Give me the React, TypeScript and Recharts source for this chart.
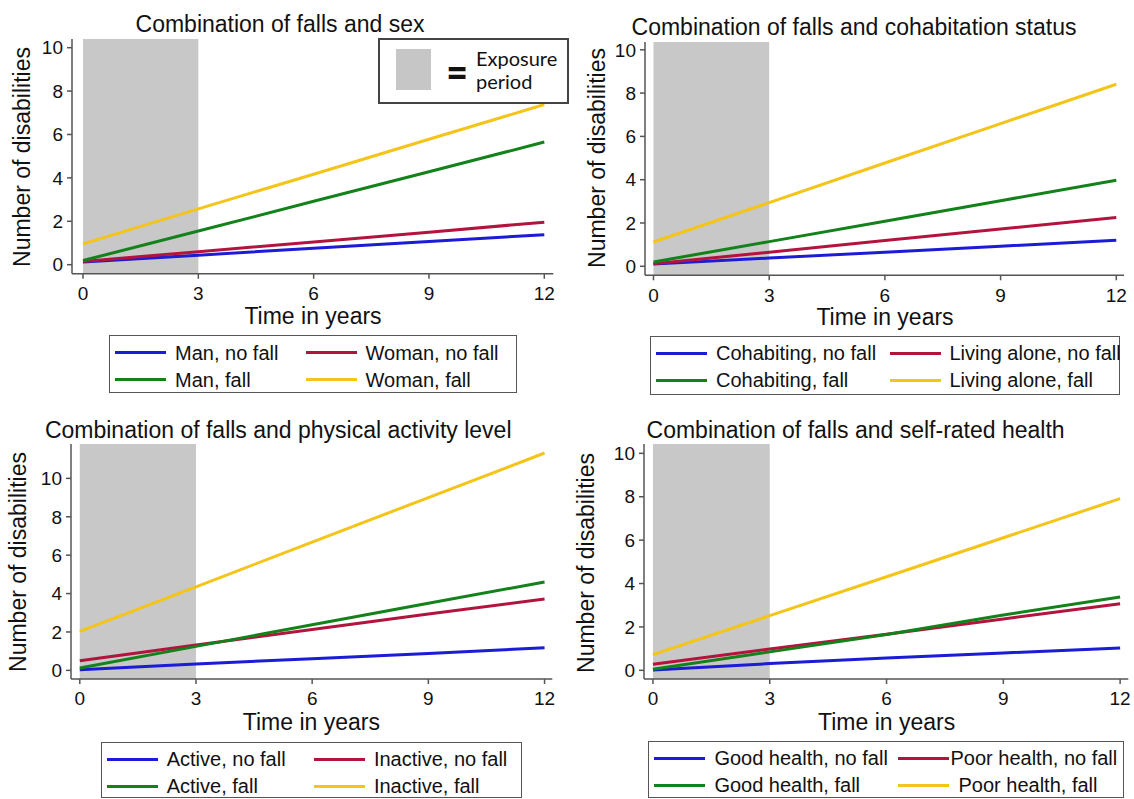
import React from "react";
import { LineChart, Line, XAxis, YAxis, ReferenceArea, Legend } from "recharts";

// time points (years) and axis ticks
const years = [0, 3, 6, 9, 12];
const xTicks = [0, 3, 6, 9, 12];
const yTicks = [0, 2, 4, 6, 8, 10];
const exposurePeriod = [0, 3];

const titles = [
  "Combination of falls and sex",
  "Combination of falls and cohabitation status",
  "Combination of falls and physical activity level",
  "Combination of falls and self-rated health",
];

// sex
const sexLabels = ["Man, no fall", "Woman, no fall", "Man, fall", "Woman, fall"];
const manNoFall = [0.12, 0.44, 0.76, 1.07, 1.38];
const womanNoFall = [0.15, 0.6, 1.05, 1.5, 1.96];
const manFall = [0.19, 1.55, 2.92, 4.28, 5.65];
const womanFall = [0.96, 2.57, 4.17, 5.78, 7.38];

// cohabitation
const cohabLabels = ["Cohabiting, no fall", "Living alone, no fall", "Cohabiting, fall", "Living alone, fall"];
const cohabNoFall = [0.1, 0.38, 0.65, 0.93, 1.2];
const aloneNoFall = [0.12, 0.65, 1.19, 1.72, 2.25];
const cohabFall = [0.2, 1.14, 2.08, 3.03, 3.97];
const aloneFall = [1.12, 2.94, 4.77, 6.59, 8.41];

// physical activity
const activityLabels = ["Active, no fall", "Inactive, no fall", "Active, fall", "Inactive, fall"];
const activeNoFall = [0.03, 0.33, 0.61, 0.88, 1.18];
const inactiveNoFall = [0.5, 1.32, 2.13, 2.94, 3.72];
const activeFall = [0.12, 1.25, 2.38, 3.5, 4.6];
const inactiveFall = [2.03, 4.35, 6.68, 9.0, 11.32];

// self-rated health
const healthLabels = ["Good health, no fall", "Poor health, no fall", "Good health, fall", "Poor health, fall"];
const goodNoFall = [0.02, 0.31, 0.57, 0.8, 1.03];
const poorNoFall = [0.28, 0.98, 1.66, 2.37, 3.07];
const goodFall = [0.05, 0.85, 1.65, 2.55, 3.38];
const poorFall = [0.72, 2.52, 4.31, 6.11, 7.91];

const colors = ["#1b1bd8", "#b3143e", "#13821b", "#f4c419"];
const FONT = '"Liberation Sans", Arial, sans-serif';

const panels = [
  {
    title: titles[0], labels: sexLabels, series: [manNoFall, womanNoFall, manFall, womanFall],
    x0: 72, x1: 553.3, y0: 38.5, y1: 273.3, xMin: -0.286, xMax: 12.234, yMin: -0.42, yMax: 10.4,
    titlePos: [280, 23.5], xLabelPos: [313, 315.5], yLabelPos: [21.8, 156.7],
    legend: { left: 109, top: 335, width: 408, height: 58, col2: 197, gaps: [9, 9, 9, 9] },
  },
  {
    title: titles[1], labels: cohabLabels, series: [cohabNoFall, aloneNoFall, cohabFall, aloneFall],
    x0: 645, x1: 1124, y0: 41.7, y1: 275, xMin: -0.22, xMax: 12.2, yMin: -0.416, yMax: 10.36,
    titlePos: [854, 26.7], xLabelPos: [885, 317], yLabelPos: [596.5, 158.3],
    legend: { left: 650, top: 336, width: 470, height: 59, col2: 240, gaps: [9, 9, 9, 9] },
  },
  {
    title: titles[2], labels: activityLabels, series: [activeNoFall, inactiveNoFall, activeFall, inactiveFall],
    x0: 70.5, x1: 551.8, y0: 444.3, y1: 679.3, xMin: -0.227, xMax: 12.2, yMin: -0.45, yMax: 11.79,
    titlePos: [278.2, 429.7], xLabelPos: [311.4, 721.8], yLabelPos: [18.3, 561.7],
    legend: { left: 100.7, top: 741.7, width: 421.7, height: 56, col2: 213.7, gaps: [9, 9, 9, 9] },
  },
  {
    title: titles[3], labels: healthLabels, series: [goodNoFall, poorNoFall, goodFall, poorFall],
    x0: 643.7, x1: 1128, y0: 444.3, y1: 679.3, xMin: -0.23, xMax: 12.21, yMin: -0.4, yMax: 10.43,
    titlePos: [855.6, 429.7], xLabelPos: [886.6, 722], yLabelPos: [586.2, 563],
    legend: { left: 648.4, top: 740.7, width: 475.6, height: 57, col2: 250.6, gaps: [9, 1, 9, 9] },
  },
];

type Lg = { left: number; top: number; width: number; height: number; col2: number; gaps: number[] };

function LegendBox({ payload, lg }: { payload: any[]; lg: Lg }) {
  const items = [...(payload || [])].sort((a, b) => String(a.dataKey).localeCompare(String(b.dataKey)));
  return (
    <div
      style={{
        boxSizing: "border-box", width: lg.width, height: lg.height, border: "1.5px solid #555",
        background: "#fff", position: "relative", fontFamily: FONT,
      }}
    >
      {items.map((e, i) => (
        <div
          key={i}
          style={{
            position: "absolute", left: i % 2 === 0 ? 5 : lg.col2 - 1.5, top: i < 2 ? 3.5 : 30.5,
            height: 26, display: "flex", alignItems: "center",
          }}
        >
          <span style={{ display: "inline-block", width: 51, height: 3, background: e.color, marginRight: lg.gaps[i] }} />
          <span style={{ fontSize: 20, color: "#111", whiteSpace: "nowrap", lineHeight: 1 }}>{e.value}</span>
        </div>
      ))}
    </div>
  );
}

const centered = (cx: number, cy: number, size: number, rotate = false, lh: number | string = 1): React.CSSProperties => ({
  position: "absolute", left: cx, top: cy, fontSize: size, lineHeight: lh, whiteSpace: "nowrap",
  color: "#111", fontFamily: FONT,
  transform: `translate(-50%, -50%)${rotate ? " rotate(-90deg)" : ""}`,
});

function Panel({ p }: { p: (typeof panels)[number] }) {
  const Y_W = 50;
  const X_H = 40;
  const MT = 14;
  const MR = 20;
  const left = p.x0 - Y_W;
  const top = p.y0 - MT;
  const width = p.x1 - p.x0 + Y_W + MR;
  const height = p.y1 - p.y0 + X_H + MT;
  const data = years.map((t, i) => {
    const row: Record<string, number> = { t };
    p.series.forEach((s, k) => (row["s" + k] = s[i]));
    return row;
  });
  const axisStyle = { stroke: "#555", strokeWidth: 1.5 };

  return (
    <>
      <div style={{ position: "absolute", left, top, width, height }}>
        <LineChart width={width} height={height} data={data} margin={{ top: MT, right: MR, bottom: 0, left: 0 }}>
          <XAxis
            dataKey="t" type="number" domain={[p.xMin, p.xMax]} allowDataOverflow ticks={xTicks} interval={0}
            height={X_H} tickSize={5} tickMargin={8} axisLine={axisStyle} tickLine={axisStyle}
            tick={{ fill: "#111", fontSize: 19 }}
          />
          <YAxis
            type="number" domain={[p.yMin, p.yMax]} allowDataOverflow ticks={yTicks} interval={0}
            width={Y_W} tickSize={5} tickMargin={4} axisLine={axisStyle} tickLine={axisStyle}
            tick={{ fill: "#111", fontSize: 19 }}
          />
          <ReferenceArea
            x1={exposurePeriod[0]} x2={exposurePeriod[1]} y1={p.yMin} y2={p.yMax}
            fill="#c8c8c8" fillOpacity={1} stroke="none" ifOverflow="visible"
          />
          {p.labels.map((name, k) => (
            <Line
              key={name} dataKey={"s" + k} name={name} type="linear" stroke={colors[k]} strokeWidth={3}
              dot={false} activeDot={false} isAnimationActive={false}
            />
          ))}
          <Legend
            verticalAlign="middle"
            itemSorter="dataKey"
            content={(props: any) => <LegendBox payload={props.payload} lg={p.legend} />}
            wrapperStyle={{
              left: p.legend.left - left, top: p.legend.top - top, right: "auto", bottom: "auto",
              width: p.legend.width, height: p.legend.height,
            }}
          />
        </LineChart>
      </div>
      <div style={centered(p.titlePos[0], p.titlePos[1], 23)}>{p.title}</div>
      <div style={centered(p.xLabelPos[0], p.xLabelPos[1], 23, false, "17px")}>Time in years</div>
      <div style={centered(p.yLabelPos[0], p.yLabelPos[1], 23, true)}>Number of disabilities</div>
    </>
  );
}

function ExposureKey() {
  return (
    <div
      style={{
        position: "absolute", left: 378, top: 38.3, width: 191, height: 66, boxSizing: "border-box",
        border: "2px solid #444", background: "#fff", fontFamily: "Lato, sans-serif", color: "#111",
      }}
    >
      <div style={{ position: "absolute", left: 15.5, top: 9, width: 35, height: 41, background: "#c6c6c6" }} />
      <div style={{ position: "absolute", left: 77, top: 31, transform: "translate(-50%, -50%) scale(1.1, 1.25)", fontSize: 34, fontWeight: 900, lineHeight: 1 }}>=</div>
      <div style={{ position: "absolute", left: 96, top: 8, fontSize: 20, lineHeight: "20px" }}>Exposure</div>
      <div style={{ position: "absolute", left: 96, top: 31, fontSize: 20, lineHeight: "20px" }}>period</div>
    </div>
  );
}

export default function App() {
  return (
    <div style={{ position: "absolute", left: 0, top: 0, width: 1134, height: 799, background: "#fff", overflow: "hidden", fontFamily: FONT }}>
      {panels.map((p) => (
        <Panel key={p.title} p={p} />
      ))}
      <ExposureKey />
    </div>
  );
}
